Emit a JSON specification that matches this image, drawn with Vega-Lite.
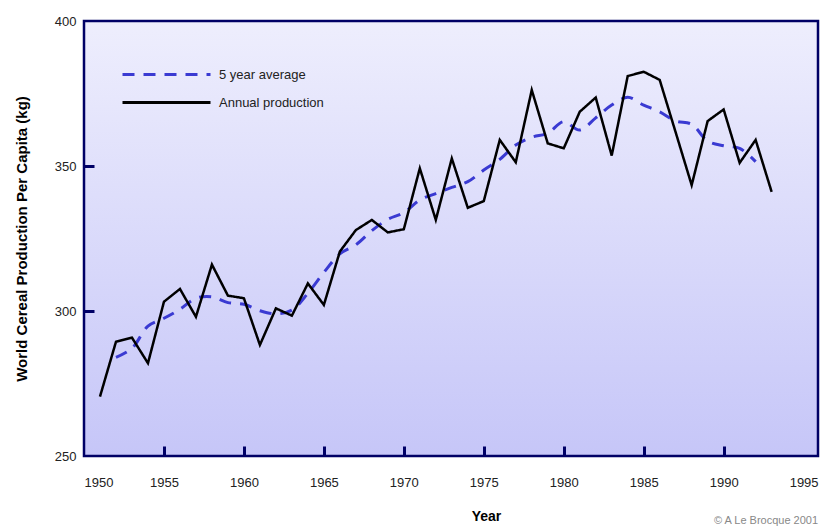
{
  "$schema": "https://vega.github.io/schema/vega-lite/v6.json",
  "width": 734,
  "height": 435,
  "autosize": {"type": "none"},
  "padding": {"left": 84, "top": 21, "right": 13, "bottom": 74},
  "background": "white",
  "config": {
    "font": "Liberation Sans",
    "view": {
      "stroke": "#000066",
      "strokeWidth": 2.5,
      "fill": {"gradient": "linear", "x1": 0, "y1": 0, "x2": 0, "y2": 1,
        "stops": [{"offset": 0, "color": "#eeeefd"}, {"offset": 1, "color": "#c6c6f8"}]}
    }
  },
  "title": {
    "text": "© A Le Brocque 2001",
    "orient": "bottom",
    "anchor": "end",
    "fontSize": 11,
    "fontWeight": "normal",
    "color": "#888888",
    "offset": -8
  },
  "data": {
    "values": [
      {"year": 1951, "kg": 270.5, "series": "Annual production"},
      {"year": 1952, "kg": 289.4, "series": "Annual production"},
      {"year": 1953, "kg": 290.8, "series": "Annual production"},
      {"year": 1954, "kg": 282.0, "series": "Annual production"},
      {"year": 1955, "kg": 303.2, "series": "Annual production"},
      {"year": 1956, "kg": 307.6, "series": "Annual production"},
      {"year": 1957, "kg": 298.0, "series": "Annual production"},
      {"year": 1958, "kg": 316.0, "series": "Annual production"},
      {"year": 1959, "kg": 305.3, "series": "Annual production"},
      {"year": 1960, "kg": 304.4, "series": "Annual production"},
      {"year": 1961, "kg": 288.3, "series": "Annual production"},
      {"year": 1962, "kg": 300.9, "series": "Annual production"},
      {"year": 1963, "kg": 298.4, "series": "Annual production"},
      {"year": 1964, "kg": 309.5, "series": "Annual production"},
      {"year": 1965, "kg": 302.1, "series": "Annual production"},
      {"year": 1966, "kg": 320.5, "series": "Annual production"},
      {"year": 1967, "kg": 327.9, "series": "Annual production"},
      {"year": 1968, "kg": 331.4, "series": "Annual production"},
      {"year": 1969, "kg": 327.1, "series": "Annual production"},
      {"year": 1970, "kg": 328.2, "series": "Annual production"},
      {"year": 1971, "kg": 349.2, "series": "Annual production"},
      {"year": 1972, "kg": 331.4, "series": "Annual production"},
      {"year": 1973, "kg": 352.6, "series": "Annual production"},
      {"year": 1974, "kg": 335.6, "series": "Annual production"},
      {"year": 1975, "kg": 337.9, "series": "Annual production"},
      {"year": 1976, "kg": 359.0, "series": "Annual production"},
      {"year": 1977, "kg": 351.3, "series": "Annual production"},
      {"year": 1978, "kg": 376.2, "series": "Annual production"},
      {"year": 1979, "kg": 357.8, "series": "Annual production"},
      {"year": 1980, "kg": 356.1, "series": "Annual production"},
      {"year": 1981, "kg": 368.7, "series": "Annual production"},
      {"year": 1982, "kg": 373.6, "series": "Annual production"},
      {"year": 1983, "kg": 353.6, "series": "Annual production"},
      {"year": 1984, "kg": 381.0, "series": "Annual production"},
      {"year": 1985, "kg": 382.5, "series": "Annual production"},
      {"year": 1986, "kg": 379.7, "series": "Annual production"},
      {"year": 1987, "kg": 361.6, "series": "Annual production"},
      {"year": 1988, "kg": 343.4, "series": "Annual production"},
      {"year": 1989, "kg": 365.5, "series": "Annual production"},
      {"year": 1990, "kg": 369.5, "series": "Annual production"},
      {"year": 1991, "kg": 351.1, "series": "Annual production"},
      {"year": 1992, "kg": 359.0, "series": "Annual production"},
      {"year": 1993, "kg": 341.1, "series": "Annual production"},
      {"year": 1952, "kg": 284.0, "series": "5 year average"},
      {"year": 1953, "kg": 287.1, "series": "5 year average"},
      {"year": 1954, "kg": 294.8, "series": "5 year average"},
      {"year": 1955, "kg": 297.5, "series": "5 year average"},
      {"year": 1956, "kg": 300.6, "series": "5 year average"},
      {"year": 1957, "kg": 304.4, "series": "5 year average"},
      {"year": 1958, "kg": 304.9, "series": "5 year average"},
      {"year": 1959, "kg": 302.9, "series": "5 year average"},
      {"year": 1960, "kg": 302.3, "series": "5 year average"},
      {"year": 1961, "kg": 300.1, "series": "5 year average"},
      {"year": 1962, "kg": 299.0, "series": "5 year average"},
      {"year": 1963, "kg": 300.3, "series": "5 year average"},
      {"year": 1964, "kg": 306.1, "series": "5 year average"},
      {"year": 1965, "kg": 313.3, "series": "5 year average"},
      {"year": 1966, "kg": 319.7, "series": "5 year average"},
      {"year": 1967, "kg": 322.8, "series": "5 year average"},
      {"year": 1968, "kg": 327.7, "series": "5 year average"},
      {"year": 1969, "kg": 331.6, "series": "5 year average"},
      {"year": 1970, "kg": 333.9, "series": "5 year average"},
      {"year": 1971, "kg": 338.3, "series": "5 year average"},
      {"year": 1972, "kg": 340.5, "series": "5 year average"},
      {"year": 1973, "kg": 342.6, "series": "5 year average"},
      {"year": 1974, "kg": 344.6, "series": "5 year average"},
      {"year": 1975, "kg": 348.6, "series": "5 year average"},
      {"year": 1976, "kg": 352.3, "series": "5 year average"},
      {"year": 1977, "kg": 357.2, "series": "5 year average"},
      {"year": 1978, "kg": 359.9, "series": "5 year average"},
      {"year": 1979, "kg": 361.3, "series": "5 year average"},
      {"year": 1980, "kg": 365.3, "series": "5 year average"},
      {"year": 1981, "kg": 362.4, "series": "5 year average"},
      {"year": 1982, "kg": 366.6, "series": "5 year average"},
      {"year": 1983, "kg": 371.0, "series": "5 year average"},
      {"year": 1984, "kg": 373.7, "series": "5 year average"},
      {"year": 1985, "kg": 371.0, "series": "5 year average"},
      {"year": 1986, "kg": 368.7, "series": "5 year average"},
      {"year": 1987, "kg": 365.5, "series": "5 year average"},
      {"year": 1988, "kg": 364.4, "series": "5 year average"},
      {"year": 1989, "kg": 358.6, "series": "5 year average"},
      {"year": 1990, "kg": 357.0, "series": "5 year average"},
      {"year": 1991, "kg": 356.1, "series": "5 year average"},
      {"year": 1992, "kg": 351.5, "series": "5 year average"}
    ]
  },
  "encoding": {
    "x": {
      "field": "year",
      "type": "quantitative",
      "scale": {"domain": [1950, 1995.9], "nice": false, "zero": false},
      "axis": {
        "values": [1950, 1955, 1960, 1965, 1970, 1975, 1980, 1985, 1990, 1995],
        "format": "d",
        "domain": false,
        "grid": false,
        "tickSize": -10,
        "tickWidth": 3,
        "tickColor": "#000066",
        "tickOpacity": {"condition": {"test": "datum.value == 1995 || datum.value == 1950", "value": 0}, "value": 1},
        "labelPadding": 30,
        "labelFontSize": 13,
        "labelColor": "#222222",
        "title": "Year",
        "titleFontSize": 14,
        "titleFontWeight": "bold",
        "titleColor": "#000000",
        "titleX": 402,
        "titlePadding": 20
      }
    },
    "y": {
      "field": "kg",
      "type": "quantitative",
      "scale": {"domain": [250, 400], "nice": false, "zero": false},
      "axis": {
        "values": [250, 300, 350, 400],
        "domain": false,
        "grid": false,
        "tickSize": -10,
        "tickWidth": 3,
        "tickColor": "#000066",
        "tickOpacity": {"condition": {"test": "datum.value == 250 || datum.value == 400", "value": 0}, "value": 1},
        "labelPadding": 18,
        "labelFontSize": 13,
        "labelColor": "#222222",
        "title": "World Cereal Production Per Capita (kg)",
        "titleFontSize": 15,
        "titleFontWeight": "bold",
        "titleColor": "#000000",
        "titlePadding": 25
      }
    },
    "color": {
      "field": "series",
      "type": "nominal",
      "scale": {"domain": ["5 year average", "Annual production"], "range": ["#3a3ad2", "#000000"]},
      "legend": {
        "title": null,
        "orient": "none",
        "legendX": 70,
        "legendY": 41,
        "padding": 0,
        "symbolType": "M-4,0H4",
        "symbolSize": 484,
        "symbolStrokeWidth": 3,
        "labelFontSize": 13,
        "labelColor": "#222222",
        "labelOffset": 40,
        "rowPadding": 8
      }
    },
    "strokeDash": {
      "field": "series",
      "type": "nominal",
      "scale": {"domain": ["5 year average", "Annual production"], "range": [[12, 9], [1, 0]]},
      "legend": null
    }
  },
  "layer": [
    {
      "transform": [{"filter": "datum.series == '5 year average'"}],
      "mark": {"type": "line", "interpolate": "catmull-rom", "strokeWidth": 3}
    },
    {
      "transform": [{"filter": "datum.series == 'Annual production'"}],
      "mark": {"type": "line", "interpolate": "linear", "strokeWidth": 2.5}
    }
  ]
}
